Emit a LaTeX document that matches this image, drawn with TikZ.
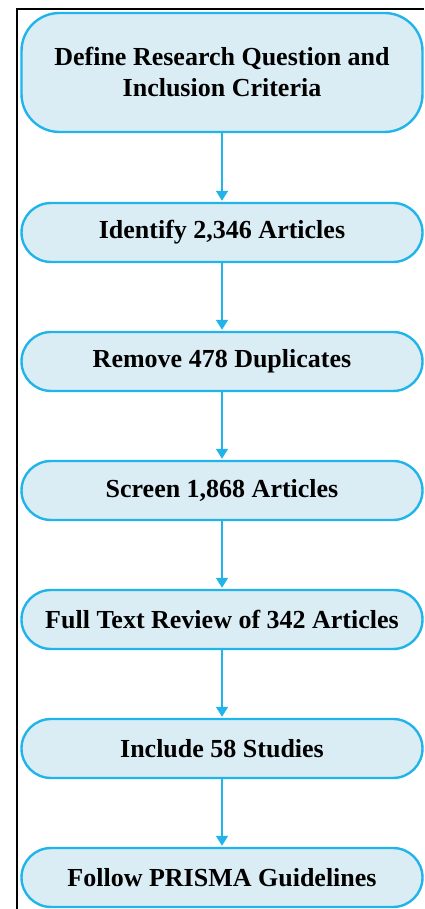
\documentclass[tikz,border=0pt]{standalone}
\usepackage{fontspec}
\setmainfont{Liberation Serif}
\usetikzlibrary{arrows.meta}
\definecolor{stepedge}{RGB}{32,180,234}
\definecolor{stepfill}{RGB}{219,237,244}
\tikzset{
  stepbox/.style={draw=stepedge, fill=stepfill, line width=2.4pt,
    minimum width=401pt, minimum height=59pt, rounded corners=29.5pt,
    inner sep=0pt, align=center,
    font=\fontsize{26}{31}\selectfont\bfseries},
  flow/.style={draw=stepedge, line width=1.6pt,
    -{Triangle[width=12pt,length=10pt]}, shorten >=1pt}
}
\begin{document}
\begin{tikzpicture}[x=1pt,y=1pt]
  \useasboundingbox (0,0) rectangle (424,909);
  % outer frame (left and top edges)
  \draw[line width=1.6pt, black] (17,0) -- (17,900) -- (424,900);
  % process steps
  \node[stepbox, minimum height=119pt, rounded corners=38pt] (s1) at (222,836.5)
    {Define Research Question and\\Inclusion Criteria};
  \node[stepbox] (s2) at (222,676.5) {Identify 2,346 Articles};
  \node[stepbox] (s3) at (222,547.5) {Remove 478 Duplicates};
  \node[stepbox] (s4) at (222,418.5) {Screen 1,868 Articles};
  \node[stepbox] (s5) at (222,289.5) {Full Text Review of 342 Articles};
  \node[stepbox] (s6) at (222,160.5) {Include 58 Studies};
  \node[stepbox] (s7) at (222,31.5) {Follow PRISMA Guidelines};
  % connectors
  \draw[flow] (s1.south) -- (s2.north);
  \draw[flow] (s2.south) -- (s3.north);
  \draw[flow] (s3.south) -- (s4.north);
  \draw[flow] (s4.south) -- (s5.north);
  \draw[flow] (s5.south) -- (s6.north);
  \draw[flow] (s6.south) -- (s7.north);
\end{tikzpicture}
\end{document}
